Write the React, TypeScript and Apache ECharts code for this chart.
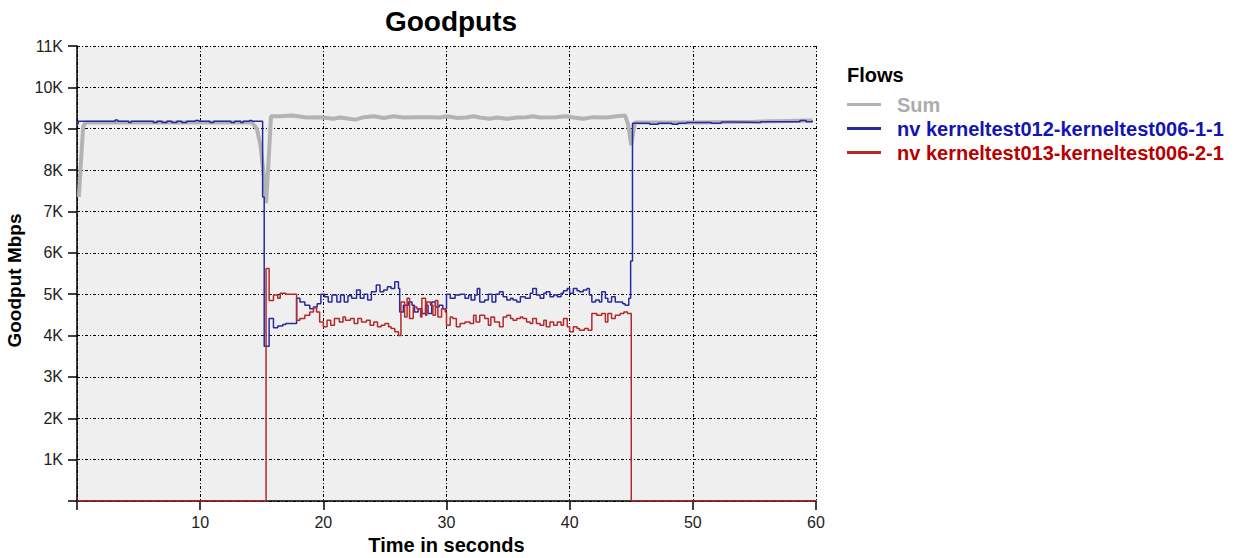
import React, { useEffect, useRef } from "react";
import * as echarts from "echarts";

// Goodput values in K Mbps, as [time in seconds, value]
const sumSeries: [number, number][] = [
  [0.15, 7.35], [0.3, 8.1], [0.5, 9.05], [0.7, 9.15], [5, 9.15], [10, 9.15], [14.2, 9.15],
  [14.6, 9.0], [14.9, 8.6], [15.15, 7.9], [15.35, 7.2], [15.55, 8.2], [15.75, 9.3], [16.5, 9.3],
  [17.5, 9.32], [18.6, 9.27], [19.8, 9.28], [20.8, 9.24], [21.4, 9.27], [22.1, 9.24], [22.6, 9.22],
  [23.3, 9.28], [24.1, 9.3], [24.9, 9.26], [25.7, 9.3], [26.5, 9.27], [27.6, 9.28], [28.6, 9.28],
  [29.5, 9.27], [30.0, 9.3], [30.9, 9.26], [31.6, 9.27], [32.2, 9.3], [32.7, 9.27], [33.5, 9.24],
  [34.1, 9.27], [34.9, 9.24], [35.7, 9.27], [36.5, 9.28], [37.0, 9.3], [37.6, 9.27], [38.9, 9.28],
  [39.7, 9.3], [40.3, 9.27], [41.1, 9.24], [41.9, 9.28], [43.0, 9.27], [43.8, 9.3], [44.5, 9.32],
  [44.75, 9.1], [45.0, 8.6], [45.15, 8.9], [45.3, 9.15], [50, 9.15], [55, 9.17], [59.7, 9.2],
];

const flow1Series: [number, number][] = [
  [0, 9.12], [0.1, 9.18], [3.1, 9.21], [3.3, 9.18], [4.2, 9.15], [4.4, 9.18], [6.2, 9.15],
  [6.5, 9.18], [6.9, 9.15], [7.3, 9.18], [7.7, 9.15], [8.1, 9.18], [8.5, 9.15], [8.9, 9.18],
  [9.6, 9.2], [9.9, 9.18], [10.8, 9.15], [11.1, 9.18], [12.5, 9.15], [12.8, 9.18], [13.3, 9.15],
  [13.5, 9.18], [14.0, 9.2], [14.2, 9.18], [15.07, 7.35], [15.2, 3.74], [15.6, 4.41], [15.95, 4.19],
  [16.3, 4.23], [16.7, 4.27], [16.95, 4.29], [17.83, 4.9], [18.1, 4.81], [18.5, 4.73], [18.9, 4.65],
  [19.2, 4.69], [19.5, 4.77], [19.8, 5.0], [20.1, 4.94], [20.4, 4.81], [20.7, 4.98], [21.1, 4.81],
  [21.4, 4.98], [21.7, 4.81], [22.0, 4.96], [22.3, 4.9], [22.7, 5.1], [23.0, 4.9], [23.3, 5.0],
  [23.6, 4.86], [23.9, 5.06], [24.3, 5.22], [24.6, 5.06], [24.9, 5.1], [25.2, 5.18], [25.5, 5.14],
  [25.8, 5.3], [26.1, 5.14], [26.2, 4.57], [26.5, 4.73], [26.9, 4.81], [27.2, 4.73], [27.4, 4.57],
  [27.7, 4.65], [28.0, 4.53], [28.3, 4.73], [28.5, 4.53], [28.8, 4.81], [29.1, 4.69], [29.4, 4.73],
  [29.7, 4.65], [30.0, 5.0], [30.3, 4.9], [30.7, 4.98], [31.1, 5.0], [31.5, 4.9], [31.8, 4.98],
  [32.0, 4.86], [32.3, 4.98], [32.5, 5.14], [32.7, 4.81], [33.1, 4.86], [33.4, 5.0], [33.7, 4.81],
  [34.0, 5.0], [34.3, 5.06], [34.6, 4.94], [34.9, 4.86], [35.2, 4.9], [35.4, 4.86], [35.7, 4.81],
  [36.0, 4.94], [36.4, 4.9], [36.8, 5.02], [37.0, 5.14], [37.3, 4.98], [37.6, 4.9], [37.9, 5.02],
  [38.1, 5.06], [38.4, 4.94], [38.7, 4.98], [39.0, 4.94], [39.3, 5.02], [39.5, 5.08], [39.8, 5.14],
  [40.0, 5.02], [40.3, 5.14], [40.6, 5.08], [40.8, 5.06], [41.1, 5.1], [41.4, 5.14], [41.6, 4.98],
  [41.8, 4.81], [42.1, 4.86], [42.4, 4.81], [42.6, 5.06], [42.9, 4.9], [43.1, 4.81], [43.4, 4.94],
  [43.7, 4.81], [44.0, 4.81], [44.3, 4.77], [44.5, 4.73], [44.8, 4.9], [44.95, 5.8], [45.1, 9.13],
  [46.5, 9.11], [47.2, 9.13], [48.3, 9.11], [48.8, 9.13], [49.5, 9.15], [51.5, 9.13], [52.3, 9.16],
  [53.5, 9.15], [55.5, 9.17], [58.7, 9.2], [59.2, 9.17], [59.7, 9.2],
];

const flow2Series: [number, number][] = [
  [0, 0], [15.35, 5.62], [15.6, 4.85], [15.95, 4.98], [16.3, 4.9], [16.5, 5.02], [16.95, 5.0],
  [17.83, 4.37], [18.1, 4.41], [18.5, 4.49], [18.9, 4.57], [19.2, 4.67], [19.45, 4.57], [19.7, 4.33],
  [20.0, 4.21], [20.3, 4.37], [20.6, 4.25], [20.9, 4.41], [21.3, 4.33], [21.6, 4.45], [21.8, 4.37],
  [22.2, 4.41], [22.5, 4.29], [22.8, 4.41], [23.1, 4.33], [23.5, 4.37], [23.8, 4.25], [24.1, 4.33],
  [24.4, 4.21], [24.7, 4.25], [25.0, 4.29], [25.3, 4.21], [25.5, 4.17], [25.8, 4.09], [26.1, 4.0],
  [26.3, 4.81], [26.6, 4.45], [26.8, 4.9], [27.0, 4.41], [27.3, 4.69], [27.6, 4.65], [27.9, 4.45],
  [28.0, 4.9], [28.3, 4.49], [28.4, 4.81], [28.7, 4.73], [28.9, 4.49], [29.1, 4.85], [29.3, 4.45],
  [29.6, 4.65], [29.9, 4.57], [30.0, 4.25], [30.3, 4.45], [30.5, 4.41], [30.8, 4.21], [31.1, 4.29],
  [31.5, 4.33], [31.9, 4.29], [32.2, 4.49], [32.4, 4.33], [32.7, 4.49], [33.1, 4.41], [33.4, 4.25],
  [33.6, 4.45], [33.9, 4.33], [34.3, 4.21], [34.6, 4.45], [34.9, 4.49], [35.2, 4.41], [35.4, 4.37],
  [35.7, 4.41], [36.0, 4.45], [36.2, 4.41], [36.5, 4.33], [36.8, 4.29], [37.0, 4.41], [37.3, 4.29],
  [37.6, 4.25], [37.9, 4.37], [38.1, 4.21], [38.4, 4.33], [38.7, 4.25], [39.0, 4.33], [39.3, 4.25],
  [39.5, 4.41], [39.8, 4.21], [40.0, 4.09], [40.3, 4.21], [40.6, 4.17], [40.8, 4.13], [41.2, 4.17],
  [41.5, 4.13], [41.8, 4.53], [42.2, 4.49], [42.6, 4.53], [42.9, 4.33], [43.1, 4.53], [43.4, 4.41],
  [43.7, 4.49], [44.1, 4.53], [44.4, 4.57], [44.7, 4.53], [45.0, 0], [60, 0],
];

const seriesNames = ["Sum", "nv kerneltest012-kerneltest006-1-1", "nv kerneltest013-kerneltest006-2-1"];
const lineColors = ["#b3b3b3", "#2a2aa0", "#b42a2a"];
const legendColors = ["#acacac", "#1414b4", "#b80000"];

const FONT = "'Liberation Sans', Arial, Helvetica, sans-serif";

export default function App() {
  const ref = useRef<HTMLDivElement>(null);
  useEffect(() => {
    if (!ref.current) return;
    const chart = echarts.init(ref.current, undefined, { renderer: "svg" });
    chart.setOption({
      animation: false,
      backgroundColor: "#ffffff",
      title: {
        text: "Goodputs",
        left: 446,
        top: 2,
        textAlign: "center",
        textStyle: { fontFamily: FONT, fontSize: 28, fontWeight: "bold", color: "#000" },
      },
      graphic: [
        {
          type: "text",
          left: 847,
          top: 65,
          style: { text: "Flows", fontFamily: FONT, fontSize: 20, fontWeight: "bold", fill: "#000" },
        },
      ],
      legend: {
        orient: "vertical",
        left: 842,
        top: 89,
        itemWidth: 34,
        itemHeight: 3,
        itemGap: 3,
        icon: "rect",
        selectedMode: false,
        data: seriesNames.map((n, i) => ({
          name: n,
          itemStyle: { color: lineColors[i] },
          textStyle: { color: legendColors[i] },
        })),
        textStyle: { fontFamily: FONT, fontSize: 20, fontWeight: "bold", lineHeight: 21, padding: [0, 0, 0, 11] },
      },
      grid: {
        left: 77,
        right: 425,
        top: 46,
        bottom: 57,
        show: true,
        backgroundColor: "#efefef",
        borderWidth: 0,
        containLabel: false,
        outerBoundsMode: "none",
      },
      xAxis: {
        type: "value",
        min: 0,
        max: 60,
        interval: 10,
        name: "Time in seconds",
        nameLocation: "middle",
        nameGap: 30,
        nameTextStyle: { fontFamily: FONT, fontSize: 20, fontWeight: "bold", color: "#000" },
        axisLine: { show: true, onZero: false, lineStyle: { color: "#000", width: 1.5 } },
        axisTick: { show: true, length: 9, lineStyle: { color: "#000", width: 1.5 } },
        axisLabel: {
          fontFamily: FONT,
          fontSize: 16,
          color: "#222",
          margin: 13,
          formatter: (v: number) => (v === 0 ? "" : String(v)),
        },
        splitLine: { show: true, lineStyle: { color: "#000", width: 1, type: [3, 2, 1, 2] } },
      },
      yAxis: {
        type: "value",
        min: 0,
        max: 11,
        interval: 1,
        name: "Goodput Mbps",
        nameLocation: "middle",
        nameGap: 48,
        nameTextStyle: { fontFamily: FONT, fontSize: 19, fontWeight: "bold", color: "#000", padding: [0, 0, 0, -14] },
        axisLine: { show: true, lineStyle: { color: "#000", width: 1.5 } },
        axisTick: { show: true, length: 9, lineStyle: { color: "#000", width: 1.5 } },
        axisLabel: {
          fontFamily: FONT,
          fontSize: 16,
          color: "#222",
          margin: 14,
          formatter: (v: number) => (v === 0 ? "" : v + "K"),
        },
        splitLine: { show: true, lineStyle: { color: "#000", width: 1, type: [3, 2, 1, 2] } },
      },
      series: [
        {
          name: seriesNames[0],
          type: "line",
          data: sumSeries,
          showSymbol: false,
          lineStyle: { color: lineColors[0], width: 4 },
          itemStyle: { color: lineColors[0] },
          z: 2,
        },
        {
          name: seriesNames[1],
          type: "line",
          step: "end",
          data: flow1Series,
          showSymbol: false,
          lineStyle: { color: lineColors[1], width: 1.5 },
          itemStyle: { color: lineColors[1] },
          z: 3,
        },
        {
          name: seriesNames[2],
          type: "line",
          step: "end",
          data: flow2Series,
          showSymbol: false,
          lineStyle: { color: lineColors[2], width: 1.5 },
          itemStyle: { color: lineColors[2] },
          z: 4,
        },
      ],
    });
    return () => chart.dispose();
  }, []);
  return <div ref={ref} style={{ position: "fixed", left: 0, top: 0, width: 1241, height: 558 }} />;
}
